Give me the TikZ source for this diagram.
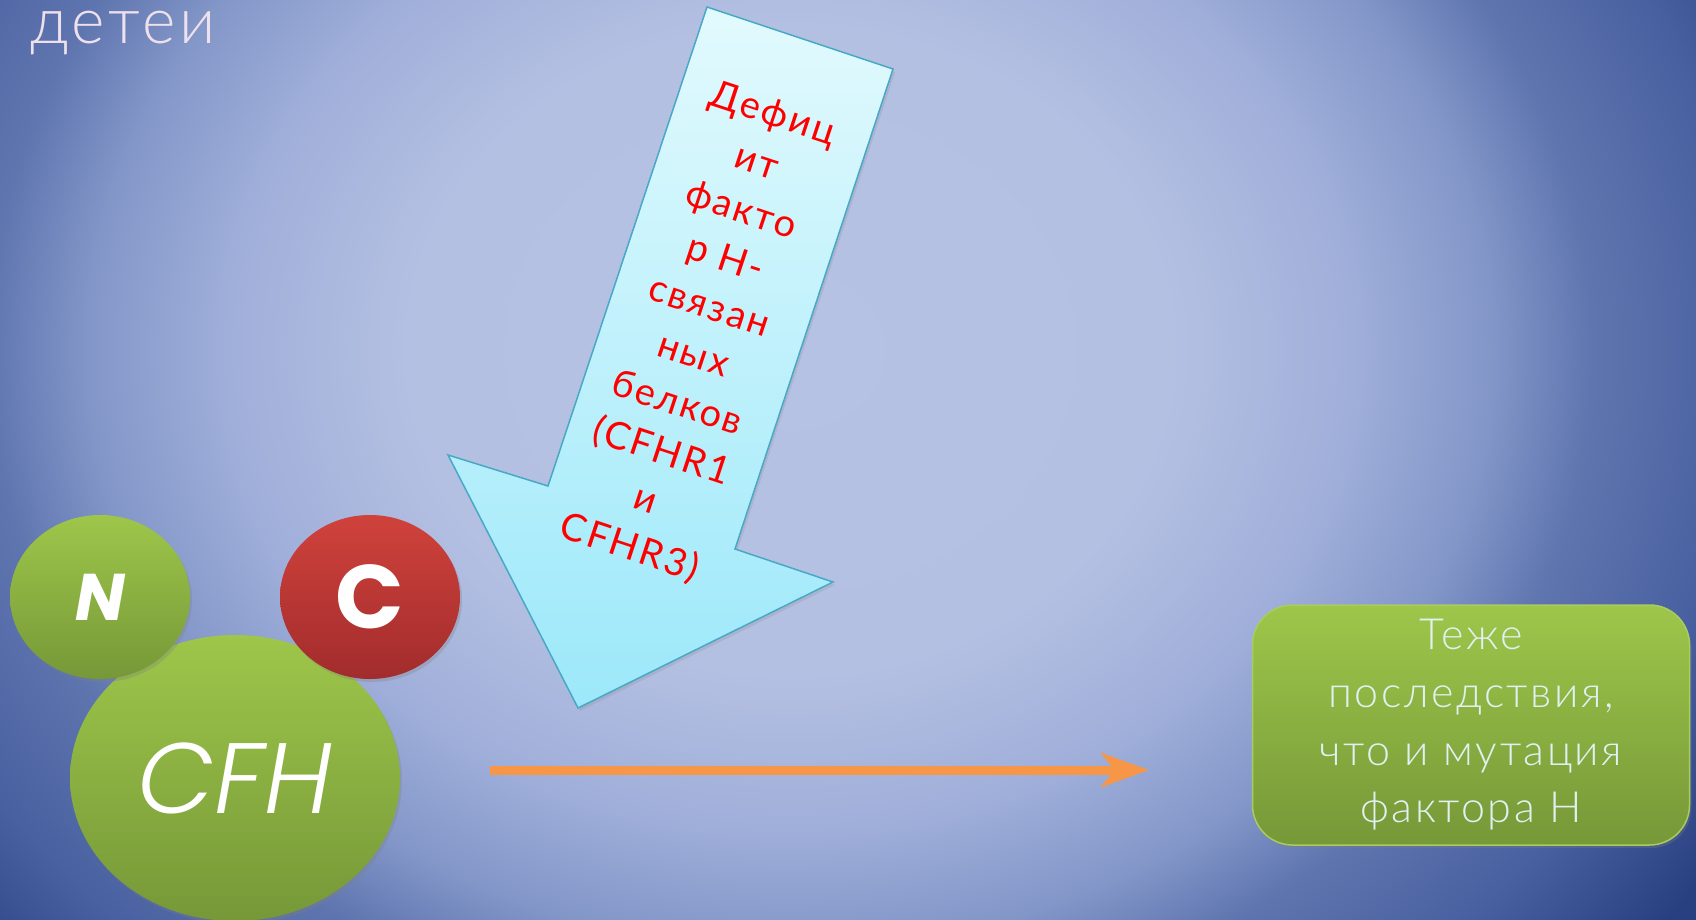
\documentclass[tikz,border=0pt]{standalone}
\usepackage{fontspec}
\setmainfont{Lato}[UprightFont=* Light, LetterSpace=6]
\newfontfamily\redfont{Lato}[LetterSpace=6]
\newfontfamily\geofont{Poppins}
\newfontfamily\geothin{Poppins}[UprightFont=* Light, ItalicFont=* Light Italic]
\usepackage{tikz}
\usetikzlibrary{positioning,arrows.meta,shapes.geometric,shadows}

\definecolor{bg0}{RGB}{182,194,228}
\definecolor{bg1}{RGB}{180,192,226}
\definecolor{bg2}{RGB}{160,175,218}
\definecolor{bg3}{RGB}{130,150,200}
\definecolor{bg4}{RGB}{95,117,175}
\definecolor{bg5}{RGB}{72,96,160}
\definecolor{bg6}{RGB}{40,64,128}
\definecolor{greentop}{RGB}{158,198,74}
\definecolor{greenbot}{RGB}{118,152,56}
\definecolor{greenrim}{RGB}{168,204,96}
\definecolor{redtop}{RGB}{208,66,60}
\definecolor{redbot}{RGB}{162,44,44}
\definecolor{cyantop}{RGB}{226,250,253}
\definecolor{cyanbot}{RGB}{156,232,250}
\definecolor{cyanline}{RGB}{72,168,198}
\definecolor{orangeline}{RGB}{247,150,70}
\definecolor{boxtext}{RGB}{226,240,242}
\definecolor{titlepink}{RGB}{238,224,236}

\pgfdeclareradialshading{slidebg}{\pgfpoint{0bp}{0bp}}{color(0bp)=(bg0); color(19bp)=(bg1); color(28bp)=(bg2); color(35bp)=(bg3); color(40bp)=(bg4); color(47.5bp)=(bg5); color(55bp)=(bg6); color(80bp)=(bg6)}

\begin{document}
\begin{tikzpicture}[x=1pt, y=-1pt,
  blob/.style={ellipse, inner sep=0pt, text=white, drop shadow={opacity=0.3, shadow xshift=2pt, shadow yshift=-3pt}},
  greenblob/.style={blob, top color=greentop, bottom color=greenbot},
  redblob/.style={blob, top color=redtop, bottom color=redbot},
  blockarrow/.style={draw=cyanline, line width=1.5pt, top color=cyantop, bottom color=cyanbot, drop shadow={opacity=0.2, shadow xshift=2pt, shadow yshift=-3pt}},
  resultbox/.style={draw=greenrim, line width=1.5pt, rounded corners=40pt, top color=greentop, bottom color=greenbot,
    minimum width=437pt, minimum height=240pt, text=boxtext, align=center, font=\fontsize{43}{57.7}\selectfont,
    drop shadow={opacity=0.3, shadow xshift=2pt, shadow yshift=-3pt}},
  flow/.style={orangeline, line width=9pt, -{Stealth[length=48pt, width=34pt, inset=14pt]}}
]

% Background
\useasboundingbox (0,0) rectangle (1696,919);
\begin{scope}
  \clip (0,0) rectangle (1696,919);
  \begin{pgfinterruptboundingbox}
    \pgftransformshift{\pgfpoint{790pt}{-350pt}}
    \pgftransformxscale{20}
    \pgftransformyscale{17}
    \pgflowlevelsynccm
    \pgfuseshading{slidebg}
  \end{pgfinterruptboundingbox}
\end{scope}

% Title remnant
\node[anchor=base west, inner sep=0pt, text=titlepink, font=\fontsize{64}{64}\selectfont] (title) at (30,43) {детеи};

% Block arrow
\coordinate (tl) at (707,7);
\coordinate (tr) at (893,69);
\coordinate (sr) at (735,549);
\coordinate (hr) at (833,582);
\coordinate (tip) at (578,708);
\coordinate (hl) at (448,455);
\coordinate (sl) at (548,486);
\path[blockarrow] (tl) -- (tr) -- (sr) -- (hr) -- (tip) -- (hl) -- (sl) -- cycle;
\node[rotate=-18.3, inner sep=0pt, text=red, align=center, font=\redfont\fontsize{38}{50.8}\selectfont] (deficit) at (701,332)
  {Дефиц\\ит\\факто\\р H-\\связан\\ных\\белков\\(CFHR1\\и\\CFHR3)};

% Protein domains
\node[greenblob, minimum width=330pt, minimum height=286pt, font=\geothin\itshape\fontsize{100}{100}\selectfont] (cfh) at (235,778) {CFH};
\node[greenblob, minimum width=180pt, minimum height=164pt, font=\geofont\bfseries\itshape\fontsize{66}{66}\selectfont] (nterm) at (100,597) {N};
\node[redblob, minimum width=180pt, minimum height=164pt, font=\geofont\bfseries\fontsize{90}{90}\selectfont] (cterm) at (370,597) {C};

% Outcome
\coordinate (flowstart) at (490,770);
\coordinate (flowend) at (1149,770);
\draw[flow] (flowstart) -- (flowend);
\node[resultbox] (result) at (1471,725) {Теже\\последствия,\\что и мутация\\фактора H};

\end{tikzpicture}
\end{document}
